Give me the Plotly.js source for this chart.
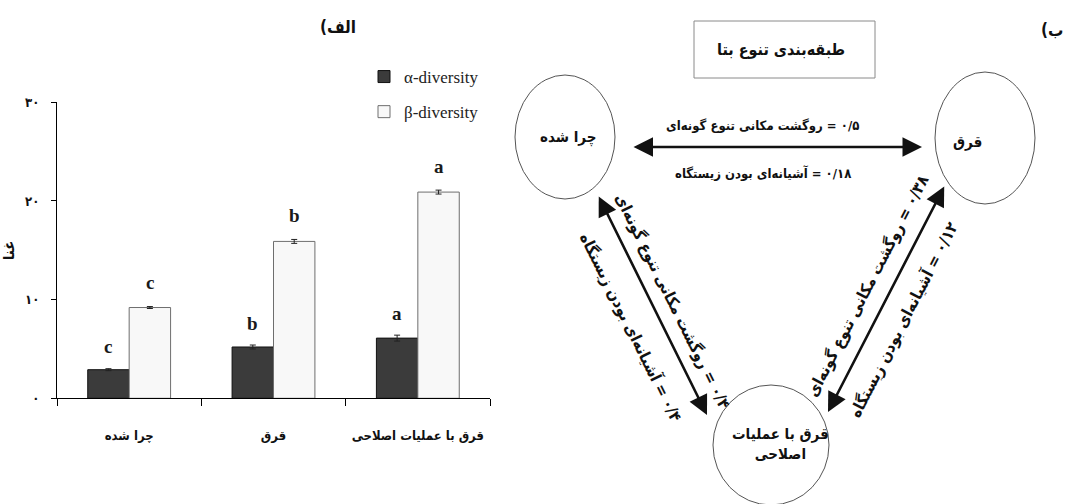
<!DOCTYPE html>
<html>
<head>
<meta charset="utf-8">
<script src="https://cdn.plot.ly/plotly-3.0.1.min.js"></script>
<style>
  html, body { margin: 0; padding: 0; background: #ffffff; }
  #chart { width: 1078px; height: 504px; }
</style>
</head>
<body>
<div id="chart"></div>
<script>
// ---- Bar chart data (panel الف) ----
const categories = ['چرا شده', 'قرق', 'قرق با عملیات اصلاحی'];
const alphaValues = [2.9, 5.2, 6.1];
const alphaErrors = [0.1, 0.2, 0.3];
const betaValues = [9.2, 15.9, 20.9];
const betaErrors = [0.1, 0.2, 0.2];
const alphaLetters = ['c', 'b', 'a'];
const betaLetters = ['c', 'b', 'a'];
const yTickValues = [0, 10, 20, 30];
const yTickLabels = ['۰', '۱۰', '۲۰', '۳۰'];
const seriesNames = ['α-diversity', 'β-diversity'];

// ---- Beta diversity partition diagram data (panel ب) ----
const siteNames = ['چرا شده', 'قرق', 'قرق با عملیات<br>اصلاحی'];
const linkPairs = [[0, 1], [0, 2], [1, 2]];
const turnoverValues = [0.5, 0.4, 0.38];
const nestednessValues = [0.18, 0.4, 0.12];
const turnoverLabel = 'روگشت مکانی تنوع گونه‌ای';
const nestednessLabel = 'آشیانه‌ای بودن زیستگاه';
const diagramTitle = 'طبقه‌بندی تنوع بتا';
const panelLabels = ['(الف', '(ب'];

// ---- Diagram geometry (pixel space of the overlay axes) ----
const nodeGeom = [
  { cx: 565, cy: 137, rx: 50, ry: 62, tx: 568, ty: 137 },
  { cx: 985, cy: 138, rx: 50, ry: 66, tx: 967, ty: 142 },
  { cx: 771, cy: 445, rx: 58, ry: 60, tx: 780, ty: 444 }
];
const linkGeom = [
  { x0: 632, y0: 147, x1: 922, y1: 147, angle: 0, size: 13, top: [762, 125], bottom: [763, 173] },
  { x0: 598, y0: 195, x1: 707, y1: 415, angle: 63.6, size: 16, top: [673, 301], bottom: [631, 327] },
  { x0: 945, y0: 185, x1: 828, y1: 412, angle: -62.7, size: 16, top: [867, 286], bottom: [903, 320] }
];
const boxGeom = { x0: 694, y0: 21, x1: 875, y1: 78 };

const W = 1078, H = 504;
const faFont = 'DejaVu Sans Condensed, DejaVu Sans, sans-serif';
const serifFont = 'Liberation Serif, Times New Roman, serif';
const RLM = '\u200F';

function toFa(v) {
  return String(v).replace('.', '/').replace(/\d/g, d => '۰۱۲۳۴۵۶۷۸۹'[+d]);
}

const traces = [
  {
    type: 'bar', name: seriesNames[0], x: categories, y: alphaValues,
    marker: { color: '#3b3b3b', line: { color: '#111111', width: 1 } },
    error_y: { type: 'data', array: alphaErrors, visible: true, color: '#222', thickness: 1, width: 3 },
    legendgroup: 'a', xaxis: 'x', yaxis: 'y', hoverinfo: 'skip'
  },
  {
    type: 'bar', name: seriesNames[1], x: categories, y: betaValues,
    marker: { color: '#f8f8f8', line: { color: '#6e6e6e', width: 1 } },
    error_y: { type: 'data', array: betaErrors, visible: true, color: '#222', thickness: 1, width: 3 },
    legendgroup: 'b', xaxis: 'x', yaxis: 'y', hoverinfo: 'skip'
  }
];

const annotations = [];
const shapes = [];

// significance letters above each bar
const groupHalf = 20.75;
categories.forEach((c, i) => {
  annotations.push({
    x: c, y: alphaValues[i] + alphaErrors[i], xref: 'x', yref: 'y', xshift: -groupHalf, yshift: 22,
    text: alphaLetters[i], showarrow: false, xanchor: 'center', yanchor: 'middle',
    font: { family: serifFont, size: 19, color: '#1a1a1a', weight: 700 }
  });
  annotations.push({
    x: c, y: betaValues[i] + betaErrors[i], xref: 'x', yref: 'y', xshift: groupHalf, yshift: 24,
    text: betaLetters[i], showarrow: false, xanchor: 'center', yanchor: 'middle',
    font: { family: serifFont, size: 19, color: '#1a1a1a', weight: 700 }
  });
});

// panel label for the diagram
annotations.push({
  x: 1052, y: 30, xref: 'x2', yref: 'y2', text: panelLabels[1], showarrow: false,
  xanchor: 'center', yanchor: 'middle',
  font: { family: faFont, size: 17, color: '#111', weight: 700 }
});

// header box
shapes.push({
  type: 'rect', xref: 'x2', yref: 'y2',
  x0: boxGeom.x0, y0: boxGeom.y0, x1: boxGeom.x1, y1: boxGeom.y1,
  line: { color: '#8a8a8a', width: 1 }, fillcolor: 'rgba(0,0,0,0)'
});
annotations.push({
  x: (boxGeom.x0 + boxGeom.x1) / 2 - 4, y: (boxGeom.y0 + boxGeom.y1) / 2, xref: 'x2', yref: 'y2',
  text: diagramTitle, showarrow: false, xanchor: 'center', yanchor: 'middle',
  font: { family: faFont, size: 16, color: '#111', weight: 700 }
});

// site nodes
siteNames.forEach((name, i) => {
  const g = nodeGeom[i];
  shapes.push({
    type: 'circle', xref: 'x2', yref: 'y2',
    x0: g.cx - g.rx, x1: g.cx + g.rx, y0: g.cy - g.ry, y1: g.cy + g.ry,
    line: { color: '#555555', width: 1 }, fillcolor: 'rgba(0,0,0,0)'
  });
  annotations.push({
    x: g.tx, y: g.ty, xref: 'x2', yref: 'y2', text: name, showarrow: false,
    xanchor: 'center', yanchor: 'middle',
    font: { family: faFont, size: 15, color: '#111', weight: 700 }
  });
});

// links between sites with turnover / nestedness values
linkPairs.forEach((pair, i) => {
  const g = linkGeom[i];
  annotations.push({
    x: g.x1, y: g.y1, ax: g.x0, ay: g.y0, xref: 'x2', yref: 'y2', axref: 'x2', ayref: 'y2',
    text: '', showarrow: true, arrowside: 'end+start', arrowhead: 2, arrowsize: 1.5,
    arrowwidth: 2.6, arrowcolor: '#111', standoff: 0, startstandoff: 0
  });
  annotations.push({
    x: g.top[0], y: g.top[1], xref: 'x2', yref: 'y2', textangle: g.angle,
    text: RLM + toFa(turnoverValues[i]) + ' = ' + turnoverLabel, showarrow: false,
    xanchor: 'center', yanchor: 'middle',
    font: { family: faFont, size: g.size, color: '#111', weight: 700 }
  });
  annotations.push({
    x: g.bottom[0], y: g.bottom[1], xref: 'x2', yref: 'y2', textangle: g.angle,
    text: RLM + toFa(nestednessValues[i]) + ' = ' + nestednessLabel, showarrow: false,
    xanchor: 'center', yanchor: 'middle',
    font: { family: faFont, size: g.size, color: '#111', weight: 700 }
  });
});

const layout = {
  width: W, height: H,
  margin: { l: 0, r: 0, t: 0, b: 0 },
  paper_bgcolor: '#ffffff', plot_bgcolor: 'rgba(0,0,0,0)',
  title: {
    text: panelLabels[0], x: 338 / W, xanchor: 'center', xref: 'paper',
    y: 1 - 27 / H, yanchor: 'middle', yref: 'paper',
    font: { family: faFont, size: 17, color: '#111', weight: 700 }
  },
  barmode: 'group', bargap: 0.426, bargroupgap: 0,
  showlegend: true,
  legend: {
    x: 364 / W, xanchor: 'left', y: 1 - 59 / H, yanchor: 'top',
    bgcolor: 'rgba(0,0,0,0)', itemwidth: 30, tracegroupgap: 10, traceorder: 'grouped',
    font: { family: serifFont, size: 17, color: '#222' }
  },
  xaxis: {
    domain: [57 / W, 490 / W], type: 'category', range: [-0.5, 2.5],
    showline: true, linecolor: '#000', linewidth: 1, mirror: false,
    ticks: 'outside', tickson: 'boundaries', ticklen: 7, tickcolor: '#000', tickwidth: 1,
    tickangle: 0, ticklabelstandoff: 25, showgrid: false, zeroline: false, fixedrange: true,
    tickfont: { family: faFont, size: 13, color: '#111', weight: 700 }, anchor: 'y'
  },
  yaxis: {
    domain: [1 - 398.3 / H, 1 - 102.3 / H], range: [0, 30],
    showline: true, linecolor: '#000', linewidth: 1,
    ticks: 'outside', ticklen: 5, tickcolor: '#000', tickwidth: 1,
    tickvals: yTickValues, ticktext: yTickLabels, ticklabelstandoff: 9,
    showgrid: false, zeroline: false, fixedrange: true, automargin: false,
    tickfont: { family: faFont, size: 13, color: '#111', weight: 700 },
    title: { text: 'غنا', standoff: 8, font: { family: faFont, size: 15, color: '#111', weight: 700 } },
    anchor: 'x'
  },
  xaxis2: { domain: [0, 1], range: [0, W], visible: false, fixedrange: true, anchor: 'y2' },
  yaxis2: { domain: [0, 1], range: [H, 0], visible: false, fixedrange: true, anchor: 'x2' },
  shapes: shapes,
  annotations: annotations
};

Plotly.newPlot('chart', traces, layout, { displayModeBar: false, staticPlot: true });
</script>
</body>
</html>
